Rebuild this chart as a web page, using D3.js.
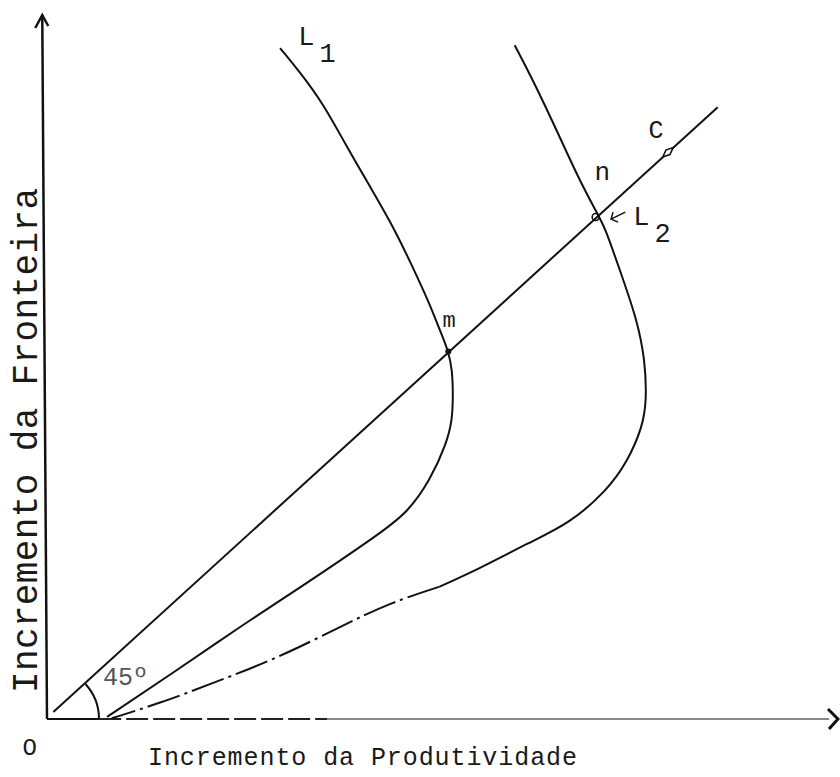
<!DOCTYPE html>
<html>
<head>
<meta charset="utf-8">
<script src="https://cdn.jsdelivr.net/npm/d3@7"></script>
<style>
  body { margin: 0; background: #fff; }
  svg { display: block; }
  text { font-family: "Liberation Mono", "DejaVu Sans Mono", monospace; fill: #1a1a1a; }
</style>
</head>
<body>
<div id="chart"></div>
<script>
// values, in arbitrary units (0..100 on both axes)
const l1Points = [
  [29.5, 95.3], [32.0, 91.9], [34.9, 87.5], [37.7, 81.8], [40.9, 75.6], [43.7, 70.2],
  [46.3, 64.2], [48.5, 58.8], [49.7, 55.3], [50.8, 52.3], [51.3, 49.6], [51.4, 46.0],
  [51.3, 42.5], [50.6, 39.2], [48.5, 33.9], [45.6, 29.3], [42.2, 26.4], [32.9, 19.3],
  [24.4, 13.1], [15.9, 6.5], [7.6, 0.3]
];
const l2Upper = [
  [59.2, 95.7], [61.5, 90.8], [64.9, 82.7], [67.2, 77.0], [69.6, 71.9], [70.6, 69.9],
  [72.5, 63.8], [74.7, 56.7], [75.7, 51.0], [75.9, 45.3], [75.4, 41.5], [73.4, 36.4],
  [70.9, 32.5], [66.2, 27.8], [61.1, 25.1], [54.8, 21.4], [49.7, 18.8]
];
const l2Lower = [
  [49.7, 18.8], [43.4, 16.5], [37.1, 13.1], [29.5, 8.8], [21.0, 5.1], [14.7, 2.4], [8.2, 0.1]
];
const lineC = [[0.8, 1.0], [84.9, 86.9]];
const pointM = [50.8, 52.2];
const pointN = [69.7, 71.3];
const pointC = [78.6, 80.5];
const arrowL2 = [[73.2, 72.0], [71.4, 71.0]];  // from, to
const labels = [
  {text: 'L', sub: '1', x: 31.8, y: 95.7, size: 27, anchor: 'start'},
  {text: 'L', sub: '2', x: 74.2, y: 70.2, size: 27, anchor: 'start'},
  {text: 'C', x: 77.1, y: 82.5, size: 25, anchor: 'middle'},
  {text: 'n', x: 70.3, y: 76.6, size: 26, anchor: 'middle'},
  {text: 'm', x: 50.9, y: 55.7, size: 22, anchor: 'middle'},
  {text: '45º', x: 7.1, y: 4.8, size: 25, anchor: 'start', colour: '#555'},
  {text: 'O', x: -2.2, y: -5.1, size: 24, anchor: 'middle'}
];
const xLabel = 'Incremento da Produtividade';
const yLabel = 'Incremento da Fronteira';

const width = 840, height = 777;
const svg = d3.select('#chart').append('svg').attr('width', width).attr('height', height);

const x = d3.scaleLinear().domain([0, 100]).range([47, 837]);
const y = d3.scaleLinear().domain([0, 100]).range([719, 15]);

const line = d3.line().x(d => x(d[0])).y(d => y(d[1])).curve(d3.curveBasis);
const straight = d3.line().x(d => x(d[0])).y(d => y(d[1]));

// axes, drawn by hand because the x axis changes style along its length
svg.append('path').attr('d', straight([[0, 0], [-0.6, 100]]))
  .attr('stroke', '#111').attr('stroke-width', 2.5).attr('fill', 'none');
svg.append('path')
  .attr('d', `M${x(-0.6) - 7},${y(100) + 13}L${x(-0.6)},${y(100)}L${x(-0.6) + 6},${y(100) + 11}`)
  .attr('stroke', '#111').attr('stroke-width', 2.5).attr('fill', 'none');

const xSegments = [
  {from: 0, to: 6.6, colour: '#111', dash: null},
  {from: 6.6, to: 35.5, colour: '#222', dash: '22,5'},
  {from: 35.5, to: 99, colour: '#888', dash: null}
];
svg.selectAll('path.x-seg').data(xSegments).join('path')
  .attr('class', 'x-seg')
  .attr('d', d => straight([[d.from, 0], [d.to, 0]]))
  .attr('stroke', d => d.colour).attr('stroke-width', 2)
  .attr('stroke-dasharray', d => d.dash).attr('fill', 'none');
svg.append('path')
  .attr('d', `M${x(100) - 9},${y(0) - 10}L${x(100) + 1},${y(0)}L${x(100) - 8},${y(0) + 10}`)
  .attr('stroke', '#111').attr('stroke-width', 3).attr('fill', 'none');

// the 45 degree line C
svg.append('path').attr('d', straight(lineC))
  .attr('stroke', '#111').attr('stroke-width', 2).attr('fill', 'none');

// angle arc at the origin
const angle = Math.atan2(y(lineC[1][1]) - y(lineC[0][1]), x(lineC[1][0]) - x(lineC[0][0]));
const arcPath = d3.path();
arcPath.arc(x(0), y(0), 52, angle, 0);
svg.append('path').attr('d', arcPath.toString())
  .attr('stroke', '#111').attr('stroke-width', 2).attr('fill', 'none');

// curves L1 and L2 (basis keeps the hand drawn wobble down)
svg.append('path').attr('d', line(l1Points))
  .attr('stroke', '#111').attr('stroke-width', 2).attr('fill', 'none');
svg.append('path').attr('d', line(l2Upper))
  .attr('stroke', '#111').attr('stroke-width', 2).attr('fill', 'none');
svg.append('path').attr('d', line(l2Lower))
  .attr('stroke', '#111').attr('stroke-width', 2).attr('fill', 'none')
  .attr('stroke-dasharray', '34,5,3,5');

// marks at m, n and C
svg.append('circle').attr('cx', x(pointM[0])).attr('cy', y(pointM[1])).attr('r', 3).attr('fill', '#111');
svg.append('circle').attr('cx', x(pointN[0]) - 2).attr('cy', y(pointN[1])).attr('r', 3.5)
  .attr('fill', 'none').attr('stroke', '#111').attr('stroke-width', 1.5);
svg.append('path').attr('d', 'M-7,0L0,-3L7,0L0,3Z')
  .attr('transform', `translate(${x(pointC[0])},${y(pointC[1])}) rotate(${angle * 180 / Math.PI})`)
  .attr('fill', '#fff').attr('stroke', '#111').attr('stroke-width', 1.6);

// little arrow pointing from L2 label to n
const ax = x(arrowL2[1][0]), ay = y(arrowL2[1][1]);
svg.append('path').attr('d', straight(arrowL2))
  .attr('stroke', '#111').attr('stroke-width', 1.5).attr('fill', 'none');
svg.append('path').attr('d', `M${ax + 2},${ay - 7}L${ax},${ay}L${ax + 7},${ay + 3}`)
  .attr('stroke', '#111').attr('stroke-width', 1.5).attr('fill', 'none');

// labels
const lab = svg.selectAll('text.lab').data(labels).join('text')
  .attr('class', 'lab')
  .attr('x', d => x(d.x)).attr('y', d => y(d.y))
  .attr('font-size', d => d.size)
  .attr('text-anchor', d => d.anchor)
  .style('fill', d => d.colour || '#1a1a1a')
  .text(d => d.text);
lab.filter(d => d.sub).append('tspan').attr('dx', 5).attr('dy', 17).text(d => d.sub);

// axis titles
svg.append('text').attr('x', 148).attr('y', 765)
  .attr('font-size', 25).attr('textLength', 429).attr('lengthAdjust', 'spacing')
  .text(xLabel);
svg.append('text')
  .attr('transform', 'translate(37,693) rotate(-90)')
  .attr('font-size', 36).attr('textLength', 505).attr('lengthAdjust', 'spacing')
  .text(yLabel);
</script>
</body>
</html>
